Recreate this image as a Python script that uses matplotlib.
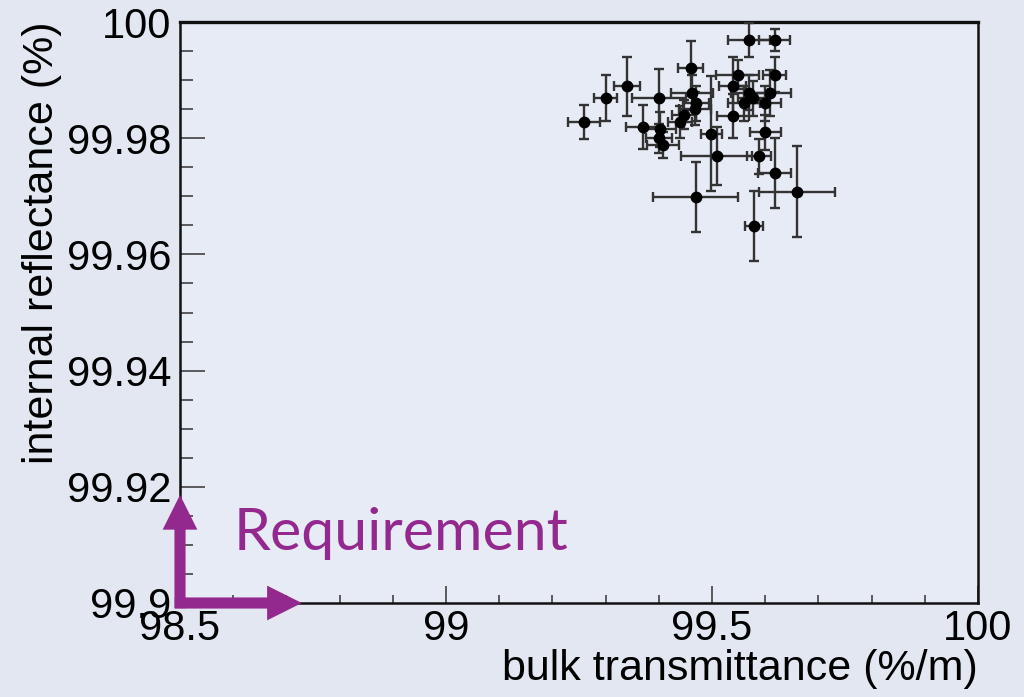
import matplotlib
matplotlib.use("Agg")
import matplotlib.pyplot as plt
from matplotlib.ticker import MultipleLocator, FixedFormatter, FixedLocator

# ---- data ----
transmittance = [99.259, 99.300, 99.340, 99.370, 99.400, 99.402, 99.408, 99.400,
                 99.440, 99.447, 99.460, 99.462, 99.470, 99.468, 99.499, 99.509,
                 99.469, 99.539, 99.548, 99.539, 99.561, 99.570, 99.578, 99.570,
                 99.618, 99.618, 99.609, 99.600, 99.600, 99.588, 99.618, 99.660,
                 99.579]
transmittance_err = [0.030, 0.021, 0.024, 0.031, 0.051, 0.030, 0.030, 0.025,
                     0.022, 0.022, 0.023, 0.040, 0.025, 0.030, 0.020, 0.067,
                     0.080, 0.025, 0.040, 0.030, 0.030, 0.035, 0.030, 0.039,
                     0.029, 0.022, 0.040, 0.030, 0.029, 0.023, 0.031, 0.072,
                     0.017]
reflectance = [99.9828, 99.9869, 99.9889, 99.9819, 99.9869, 99.9815, 99.9788, 99.9800,
               99.9828, 99.9840, 99.9920, 99.9878, 99.9860, 99.9851, 99.9808, 99.9769,
               99.9699, 99.9890, 99.9909, 99.9838, 99.9860, 99.9878, 99.9869, 99.9969,
               99.9969, 99.9909, 99.9878, 99.9860, 99.9810, 99.9769, 99.9740, 99.9708,
               99.9649]
reflectance_err = [0.0029, 0.0040, 0.0050, 0.0038, 0.0050, 0.0030, 0.0022, 0.0025,
                   0.0028, 0.0025, 0.0047, 0.0030, 0.0030, 0.0028, 0.0099, 0.0050,
                   0.0060, 0.0050, 0.0025, 0.0038, 0.0030, 0.0030, 0.0030, 0.0029,
                   0.0019, 0.0030, 0.0040, 0.0030, 0.0030, 0.0030, 0.0060, 0.0078,
                   0.0060]

x_ticks = [98.5, 99, 99.5, 100]
x_tick_labels = ["98.5", "99", "99.5", "100"]
y_ticks = [99.9, 99.92, 99.94, 99.96, 99.98, 100]
y_tick_labels = ["99.9", "99.92", "99.94", "99.96", "99.98", "100"]

requirement_x = 98.5
requirement_y = 99.9
arrow_tip_x = 98.729
arrow_tip_y = 99.9186

bg = "#e2e7f1"
purple = "#93288e"

plt.rcParams["font.family"] = ["Liberation Sans", "DejaVu Sans"]

fig = plt.figure(figsize=(10.24, 6.97), dpi=100, facecolor=bg)
ax = fig.add_axes([180 / 1024, 1 - 603 / 697, (978 - 180) / 1024, (603 - 22) / 697])
ax.set_facecolor("#e7ebf5")

ax.errorbar(transmittance, reflectance, xerr=transmittance_err, yerr=reflectance_err,
            fmt="o", color="black", ms=7.5, mec="black", ecolor="#333333",
            elinewidth=1.7, capsize=3.5, capthick=1.7, zorder=3)

ax.set_xlim(98.5, 100)
ax.set_ylim(99.9, 100)
ax.xaxis.set_major_locator(FixedLocator(x_ticks))
ax.xaxis.set_major_formatter(FixedFormatter(x_tick_labels))
ax.yaxis.set_major_locator(FixedLocator(y_ticks))
ax.yaxis.set_major_formatter(FixedFormatter(y_tick_labels))
ax.xaxis.set_minor_locator(MultipleLocator(0.1))
ax.yaxis.set_minor_locator(MultipleLocator(0.005))

ax.tick_params(which="both", direction="in", top=False, right=False, width=1.1,
               color="#333333", labelsize=30, pad=6)
ax.tick_params(axis="x", which="both", pad=4)
ax.tick_params(axis="x", which="major", length=12)
ax.tick_params(axis="x", which="minor", length=6)
ax.tick_params(axis="y", which="major", length=18)
ax.tick_params(axis="y", which="minor", length=9)
for s in ax.spines.values():
    s.set_linewidth(1.8)
    s.set_color("#111111")
ax.spines["top"].set_linewidth(2.4)

ax.set_xlabel("bulk transmittance (%/m)", fontsize=31, loc="right", labelpad=0)
ax.set_ylabel("internal reflectance (%)", fontsize=31, loc="top", labelpad=4)

# requirement arrows
arrow_style = "simple,head_length=25,head_width=25,tail_width=8"
ax.annotate("", xy=(requirement_x, arrow_tip_y),
            xytext=(requirement_x, requirement_y - 0.0009),
            xycoords="data", textcoords="data", annotation_clip=False,
            arrowprops=dict(arrowstyle=arrow_style, mutation_scale=1, fc=purple,
                            ec="none", lw=0, shrinkA=0, shrinkB=0), zorder=5)
ax.annotate("", xy=(arrow_tip_x, requirement_y),
            xytext=(requirement_x - 0.0098, requirement_y),
            xycoords="data", textcoords="data", annotation_clip=False,
            arrowprops=dict(arrowstyle=arrow_style, mutation_scale=1, fc=purple,
                            ec="none", lw=0, shrinkA=0, shrinkB=0), zorder=5)
ax.text(98.6, 99.9120, "Requirement", color=purple, fontsize=42.5,
        family=["Lato", "DejaVu Sans"], va="center", ha="left", zorder=5)

fig.savefig("out.png", dpi=100, facecolor=bg)
